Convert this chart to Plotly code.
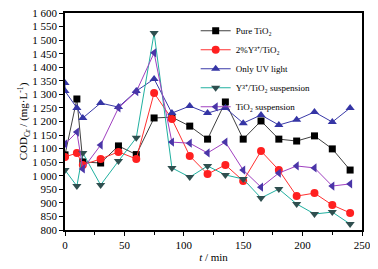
import plotly.graph_objects as go

t = [0, 10, 15, 30, 45, 60, 75, 90, 105, 120, 135, 150, 165, 180, 195, 210, 225, 240]
t_uv = [0, 0, 10, 15, 30, 45, 60, 75, 90, 105, 120, 135, 150, 165, 180, 195, 210, 225, 240]

pure_tio2 = [1077, 1283, 1051, 1047, 1110, 1078, 1213, 1216, 1183, 1135, 1272, 1135, 1202, 1135, 1128, 1147, 1099, 1021]
y_tio2 = [1069, 1084, 1040, 1062, 1088, 1062, 1305, 1209, 1073, 1006, 1040, 981, 1091, 1021, 925, 936, 892, 863]
only_uv = [1342, 1312, 1250, 1213, 1268, 1253, 1312, 1357, 1231, 1257, 1231, 1250, 1194, 1224, 1187, 1206, 1235, 1198, 1250]
y_susp = [1021, 962, 1084, 966, 1054, 1140, 1526, 1029, 995, 1036, 1003, 988, 918, 951, 896, 859, 866, 822]
tio2_susp = [1117, 1161, 1025, 1113, 1250, 1310, 1453, 1124, 1120, 1084, 1124, 1021, 958, 1010, 1036, 1029, 962, 970]

names = ["Pure TiO₂", "2%Y³⁺/TiO₂", "Only UV light",
         "Y³⁺/TiO₂ suspension", "TiO₂ suspension"]

y_ticks = list(range(800, 1601, 50))
y_labels = [f"{v:,}".replace(",", " ") for v in y_ticks]

fig = go.Figure()
fig.add_trace(go.Scatter(x=t, y=pure_tio2, name=names[0], mode="lines+markers",
                         line=dict(color="#404040", width=1),
                         marker=dict(symbol="square", size=7, color="black")))
fig.add_trace(go.Scatter(x=t, y=y_tio2, name=names[1], mode="lines+markers",
                         line=dict(color="#ff3030", width=1),
                         marker=dict(symbol="circle", size=8, color="#ff2020")))
fig.add_trace(go.Scatter(x=t_uv, y=only_uv, name=names[2], mode="lines+markers",
                         line=dict(color="#3a3aa8", width=1),
                         marker=dict(symbol="triangle-up", size=8, color="#3535a5")))
fig.add_trace(go.Scatter(x=t, y=y_susp, name=names[3], mode="lines+markers",
                         line=dict(color="#20b0a0", width=1),
                         marker=dict(symbol="triangle-down", size=8, color="#2f4f4f")))
fig.add_trace(go.Scatter(x=t, y=tio2_susp, name=names[4], mode="lines+markers",
                         line=dict(color="#a040c0", width=1),
                         marker=dict(symbol="triangle-left", size=8, color="#4a35a8")))

font = "Liberation Serif, Times New Roman, serif"
fig.update_layout(
    width=370, height=261,
    margin=dict(l=57, r=16, t=5, b=39),
    paper_bgcolor="white", plot_bgcolor="white",
    font=dict(family=font, size=11, color="black"),
    showlegend=True,
    legend=dict(x=0.44, y=0.985, xanchor="left", yanchor="top",
                bgcolor="rgba(0,0,0,0)", font=dict(size=9, family=font),
                tracegroupgap=0, itemwidth=30),
    xaxis=dict(range=[0, 250], tickvals=[0, 50, 100, 150, 200, 250],
               ticks="outside", ticklen=4, tickwidth=1, tickcolor="black",
               minor=dict(tickvals=[25, 75, 125, 175, 225], ticks="outside", ticklen=3, tickcolor="black"),
               showline=True, linecolor="black", linewidth=1.5, mirror=True,
               showgrid=False, zeroline=False, automargin=False, ticklabeloverflow="allow",
               title=dict(text="<i>t</i> / min", standoff=3, font=dict(size=11))),
    yaxis=dict(range=[800, 1600], tickvals=y_ticks, ticktext=y_labels,
               ticks="outside", ticklen=4, tickwidth=1, tickcolor="black",
               showline=True, linecolor="black", linewidth=1.5, mirror=True,
               showgrid=False, zeroline=False, automargin=False, ticklabeloverflow="allow",
               title=dict(text="COD<sub>Cr</sub> / (mg·L<sup>-1</sup>)", standoff=2, font=dict(size=11))),
)

fig.write_html("out.html")
